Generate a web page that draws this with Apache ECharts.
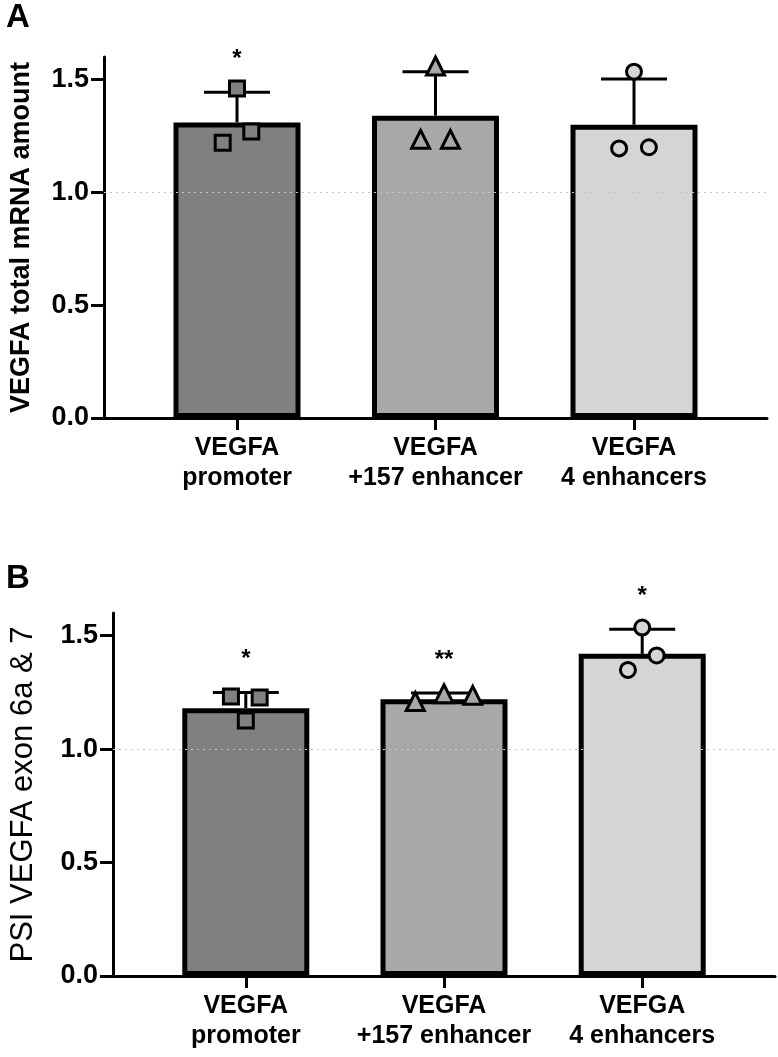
<!DOCTYPE html>
<html>
<head>
<meta charset="utf-8">
<script src="https://cdn.jsdelivr.net/npm/echarts@6/dist/echarts.min.js"></script>
<style>
html,body{margin:0;padding:0;background:#fff;}
#chart{width:778px;height:1057px;}
</style>
</head>
<body>
<div id="chart"></div>
<script>
// ---- data ----
const categoriesA = ['VEGFA\npromoter', 'VEGFA\n+157 enhancer', 'VEGFA\n4 enhancers'];
const categoriesB = ['VEGFA\npromoter', 'VEGFA\n+157 enhancer', 'VEFGA\n4 enhancers'];
const yTicks = [0, 0.5, 1.0, 1.5];
const meanA = [1.31, 1.34, 1.30];
const sdA = [0.134, 0.195, 0.202];
const pointsA = [[1.46, 1.27, 1.22], [1.56, 1.235, 1.235], [1.535, 1.195, 1.20]];
const jitterA = [[0, 0.072, -0.072], [0, -0.075, 0.075], [0, -0.075, 0.075]];
const sigA = ['*', '', ''];
const meanB = [1.18, 1.22, 1.42];
const sdB = [0.07, 0.027, 0.108];
const pointsB = [[1.232, 1.228, 1.126], [1.21, 1.244, 1.237], [1.349, 1.536, 1.413]];
const jitterB = [[-0.075, 0.07, 0], [-0.145, 0, 0.145], [-0.072, 0, 0.073]];
const sigB = ['*', '**', '*'];
const yTitleA = 'VEGFA total mRNA amount';
const yTitleB = 'PSI VEGFA exon 6a & 7';

// ---- styles ----
const barColors = ['#808080', '#a8a8a8', '#d5d5d5'];
const symbols = ['rect', 'triangle', 'circle'];
const symbolSizes = [15, 18, 15];
const FONT = '"Liberation Sans", Arial, sans-serif';

const chart = echarts.init(document.getElementById('chart'), null, {renderer: 'canvas'});

function xAxisFor(gi, cats) {
  return {
    type: 'value', gridIndex: gi, min: -0.67, max: 2.67,
    axisLine: {show: true, onZero: false, lineStyle: {color: '#000', width: 3}},
    axisTick: {show: true, customValues: [0, 1, 2], length: 12, lineStyle: {color: '#000', width: 3}},
    axisLabel: {
      customValues: [0, 1, 2], formatter: v => cats[Math.round(v)],
      color: '#000', fontFamily: FONT, fontWeight: 'bold', fontSize: 25, lineHeight: 30, margin: 15
    },
    splitLine: {show: false}
  };
}
function yAxisFor(gi, title, bold, size, gap) {
  return {
    type: 'value', gridIndex: gi, min: 0, max: 1.6, interval: 0.5,
    name: title, nameLocation: 'middle', nameGap: gap,
    nameTextStyle: {color: '#000', fontFamily: FONT, fontWeight: bold ? 'bold' : 'normal', fontSize: size},
    axisLine: {show: true, onZero: false, lineStyle: {color: '#000', width: 3}},
    axisTick: {show: true, customValues: yTicks, length: 13, lineStyle: {color: '#000', width: 3}},
    axisLabel: {
      customValues: yTicks, formatter: v => v.toFixed(1),
      color: '#000', fontFamily: FONT, fontWeight: 'bold', fontSize: 27, margin: 15
    },
    splitLine: {show: false}
  };
}

function panelSeries(gi, means, sds, pts, jit, sig) {
  const s = [];
  // reference dotted line at 1.0
  s.push({
    type: 'line', xAxisIndex: gi, yAxisIndex: gi, data: [], z: 1, silent: true,
    markLine: {
      silent: true, symbol: ['none', 'none'], label: {show: false},
      lineStyle: {type: [2, 4], color: '#c8c8c8', width: 1},
      data: [{yAxis: 1.0}]
    }
  });
  // bars
  s.push({
    type: 'bar', xAxisIndex: gi, yAxisIndex: gi, barWidth: 127, z: 2,
    data: means.map((m, i) => ({value: [i, m], itemStyle: {color: barColors[i]}})),
    itemStyle: {borderColor: '#000', borderWidth: 5}
  });
  // error bars (mean to mean+SD)
  s.push({
    type: 'custom', xAxisIndex: gi, yAxisIndex: gi, z: 3,
    data: means.map((m, i) => [i, m, m + sds[i]]),
    renderItem: (params, api) => {
      const p0 = api.coord([api.value(0), api.value(1)]);
      const p1 = api.coord([api.value(0), api.value(2)]);
      const st = {stroke: '#000', lineWidth: 3};
      return {type: 'group', children: [
        {type: 'line', shape: {x1: p0[0], y1: p0[1], x2: p1[0], y2: p1[1]}, style: st},
        {type: 'line', shape: {x1: p1[0] - 33, y1: p1[1], x2: p1[0] + 33, y2: p1[1]}, style: st}
      ]};
    }
  });
  // individual points
  pts.forEach((arr, i) => {
    s.push({
      type: 'scatter', xAxisIndex: gi, yAxisIndex: gi, z: 4,
      symbol: symbols[i], symbolSize: symbolSizes[i],
      itemStyle: {color: barColors[i], borderColor: '#000', borderWidth: 3, opacity: 1},
      data: arr.map((v, k) => [i + jit[i][k], v])
    });
  });
  // significance asterisks
  s.push({
    type: 'custom', xAxisIndex: gi, yAxisIndex: gi, z: 5, clip: false,
    data: means.map((m, i) => [i, m + sds[i] + 0.145, sig[i]]),
    renderItem: (params, api) => {
      const p = api.coord([api.value(0), api.value(1)]);
      return {type: 'text', x: p[0], y: p[1], style: {
        text: sig[params.dataIndex], fill: '#000', font: 'bold 24px ' + FONT,
        align: 'center', verticalAlign: 'middle'
      }};
    }
  });
  return s;
}

const option = {
  backgroundColor: '#fff',
  animation: false,
  grid: [
    {left: 96, top: 57, width: 671, height: 361},
    {left: 103, top: 613, width: 672, height: 363}
  ],
  xAxis: [xAxisFor(0, categoriesA), xAxisFor(1, categoriesB)],
  yAxis: [yAxisFor(0, yTitleA, true, 27, 69), yAxisFor(1, yTitleB, false, 31, 74)],
  graphic: [
    {type: 'text', left: 6, top: 1, style: {text: 'A', font: 'bold 33px ' + FONT, fill: '#000'}},
    {type: 'text', left: 6, top: 562, style: {text: 'B', font: 'bold 33px ' + FONT, fill: '#000'}}
  ],
  series: [].concat(
    panelSeries(0, meanA, sdA, pointsA, jitterA, sigA),
    panelSeries(1, meanB, sdB, pointsB, jitterB, sigB)
  )
};
chart.setOption(option);
</script>
</body>
</html>
